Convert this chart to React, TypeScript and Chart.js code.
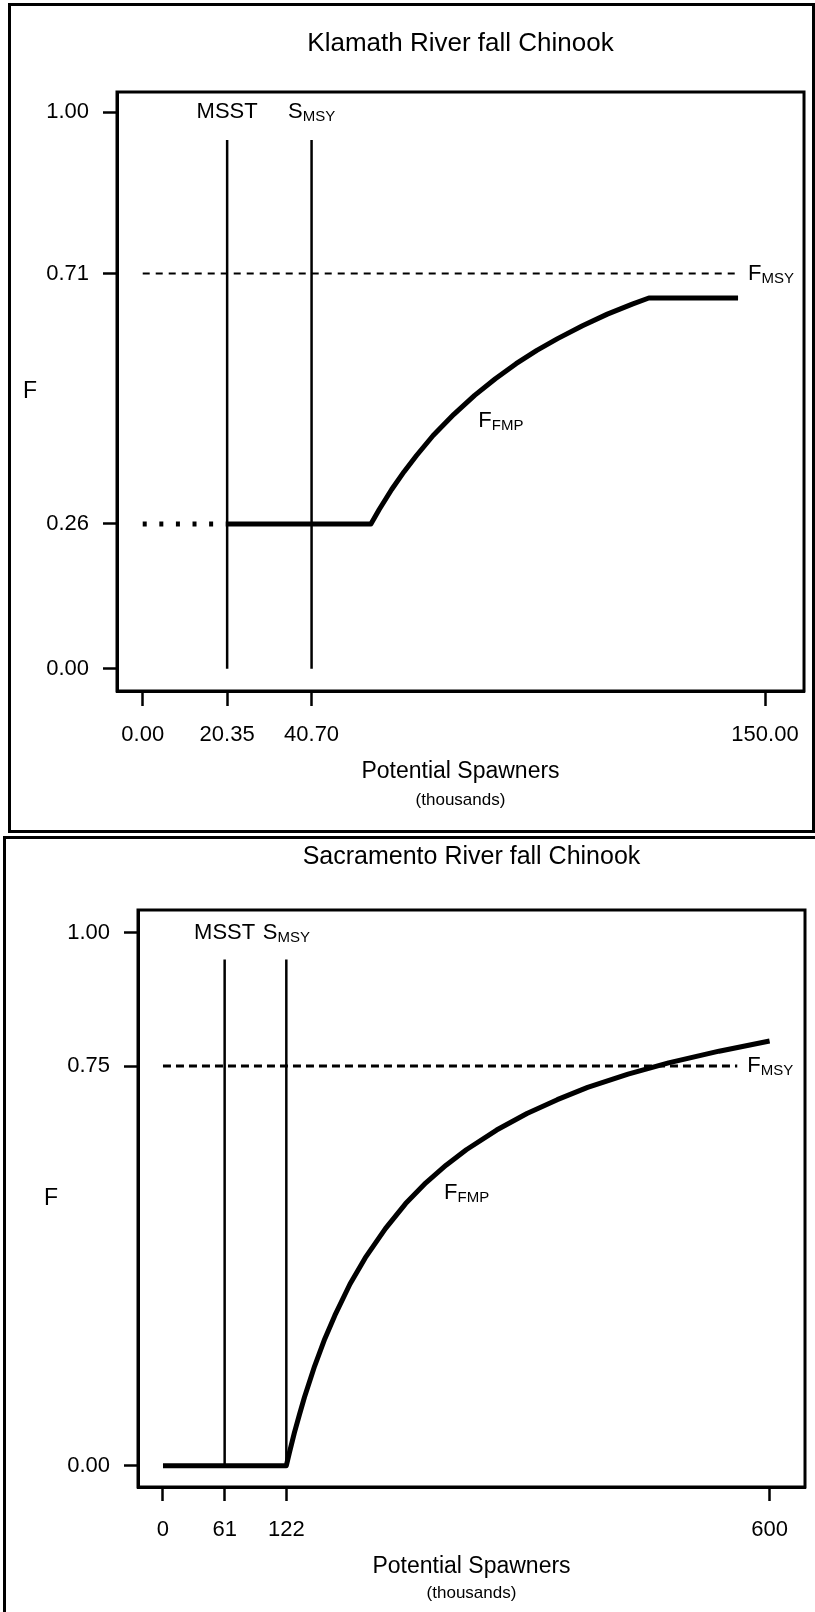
import React, { useEffect, useRef } from "react";
import { Chart, registerables } from "chart.js";

Chart.register(...registerables);

const FAMILY = "'Liberation Sans', Arial, Helvetica, sans-serif";

// ---------- Klamath River fall Chinook ----------
const klamathTitle = "Klamath River fall Chinook";
const klamathXTicks = [0, 20.35, 40.7, 150];
const klamathXTickLabels = ["0.00", "20.35", "40.70", "150.00"];
const klamathYTicks = [0, 0.26, 0.71, 1.0];
const klamathYTickLabels = ["0.00", "0.26", "0.71", "1.00"];
const klamathMSST = 20.35;
const klamathSMSY = 40.7;
const klamathFMSY = 0.71;
const klamathFMSYLineS = [0, 143.5];
const klamathRefLineTop = 0.95;
const klamathDottedS = [0, 20.35];
const klamathDottedF = [0.26, 0.26];
const klamathRuleS = [20.35, 55, 57, 60, 63, 66, 70, 75, 80, 85, 90, 95, 100, 106, 112, 118, 122, 143.5];
const klamathRuleF = [0.26, 0.26, 0.286, 0.322, 0.354, 0.383, 0.419, 0.457, 0.491, 0.521, 0.548, 0.572, 0.593, 0.616, 0.637, 0.655, 0.666, 0.666];

// ---------- Sacramento River fall Chinook ----------
const sacTitle = "Sacramento River fall Chinook";
const sacXTicks = [0, 61, 122, 600];
const sacXTickLabels = ["0", "61", "122", "600"];
const sacYTicks = [0, 0.75, 1.0];
const sacYTickLabels = ["0.00", "0.75", "1.00"];
const sacMSST = 61;
const sacSMSY = 122;
const sacFMSY = 0.75;
const sacFMSYLineS = [0, 568];
const sacRefLineTop = 0.95;
const sacRuleS = [0, 122, 125, 130, 135, 140, 150, 160, 170, 185, 200, 220, 240, 260, 280, 300, 330, 360, 390, 420, 460, 500, 550, 600];
const sacRuleF = [0, 0, 0.024, 0.062, 0.096, 0.129, 0.187, 0.238, 0.282, 0.341, 0.39, 0.445, 0.492, 0.531, 0.564, 0.593, 0.63, 0.661, 0.687, 0.71, 0.735, 0.756, 0.778, 0.797];

const pts = (xs: number[], ys: number[]) => xs.map((x, i) => ({ x, y: ys[i] }));

type PanelCfg = {
  title: string;
  xTicks: number[];
  xTickLabels: string[];
  yTicks: number[];
  yTickLabels: string[];
  xMin: number;
  xMax: number;
  yMin: number;
  yMax: number;
  datasets: any[];
  msst: number;
  smsy: number;
  fmsy: number;
  fmsyLabelS: number;
  ffmpAnchor: { x: number; y: number };
  // layout
  canvasTop: number;
  canvasHeight: number;
  areaLeft: number;
  areaRight: number;
  areaTop: number;
  areaBottom: number;
  titleDy: number;
  titlePx: number;
  xTitleDy: number;
  xSubDy: number;
  xTickLen: number;
};

function makeDatasets(
  msst: number,
  smsy: number,
  refTop: number,
  fmsy: number,
  fmsyS: number[],
  dashW: number,
  dash: number[],
  ruleS: number[],
  ruleF: number[],
  dotted?: { s: number[]; f: number[] }
) {
  const ds: any[] = [
    {
      data: pts(fmsyS, [fmsy, fmsy]),
      borderColor: "#000",
      borderWidth: dashW,
      borderDash: dash,
    },
    { data: pts([msst, msst], [0, refTop]), borderColor: "#000", borderWidth: 2.5 },
    { data: pts([smsy, smsy], [0, refTop]), borderColor: "#000", borderWidth: 2.5 },
  ];
  if (dotted) {
    ds.push({
      data: pts(dotted.s, dotted.f),
      borderColor: "#000",
      borderWidth: 5,
      borderDash: [4, 12.6],
    });
  }
  ds.push({ data: pts(ruleS, ruleF), borderColor: "#000", borderWidth: 5 });
  return ds.map((d) => ({
    showLine: true,
    pointRadius: 0,
    pointHoverRadius: 0,
    tension: 0,
    fill: false,
    borderCapStyle: "butt",
    borderJoinStyle: "round",
    ...d,
  }));
}

const klamathCfg: PanelCfg = {
  title: klamathTitle,
  xTicks: klamathXTicks,
  xTickLabels: klamathXTickLabels,
  yTicks: klamathYTicks,
  yTickLabels: klamathYTickLabels,
  xMin: -6.2,
  xMax: 159.4,
  yMin: -0.04,
  yMax: 1.036,
  datasets: makeDatasets(
    klamathMSST,
    klamathSMSY,
    klamathRefLineTop,
    klamathFMSY,
    klamathFMSYLineS,
    2,
    [7, 6],
    klamathRuleS,
    klamathRuleF,
    { s: klamathDottedS, f: klamathDottedF }
  ),
  msst: klamathMSST,
  smsy: klamathSMSY,
  fmsy: klamathFMSY,
  fmsyLabelS: klamathFMSYLineS[1],
  ffmpAnchor: { x: 80.9, y: 0.445 },
  canvasTop: 0,
  canvasHeight: 835,
  areaLeft: 117,
  areaRight: 809,
  areaTop: 92,
  areaBottom: 691,
  titleDy: -48,
  titlePx: 26,
  xTitleDy: 81,
  xSubDy: 109,
  xTickLen: 15,
};

const sacCfg: PanelCfg = {
  title: sacTitle,
  xTicks: sacXTicks,
  xTickLabels: sacXTickLabels,
  yTicks: sacYTicks,
  yTickLabels: sacYTickLabels,
  xMin: -24.7,
  xMax: 635,
  yMin: -0.04,
  yMax: 1.043,
  datasets: makeDatasets(sacMSST, sacSMSY, sacRefLineTop, sacFMSY, sacFMSYLineS, 3, [8, 5], sacRuleS, sacRuleF),
  msst: sacMSST,
  smsy: sacSMSY,
  fmsy: sacFMSY,
  fmsyLabelS: sacFMSYLineS[1],
  ffmpAnchor: { x: 278, y: 0.512 },
  canvasTop: 835,
  canvasHeight: 777,
  areaLeft: 138,
  areaRight: 805,
  areaTop: 75,
  areaBottom: 652,
  titleDy: -53,
  titlePx: 25,
  xTitleDy: 80,
  xSubDy: 106,
  xTickLen: 14,
};

function drawSubLabel(
  ctx: CanvasRenderingContext2D,
  main: string,
  sub: string,
  x: number,
  y: number,
  align: "left" | "center",
  mainPx = 22,
  subPx = 15,
  subDy = 5
) {
  ctx.font = `${mainPx}px ${FAMILY}`;
  const wm = ctx.measureText(main).width;
  ctx.font = `${subPx}px ${FAMILY}`;
  const ws = ctx.measureText(sub).width;
  const x0 = align === "center" ? x - (wm + ws) / 2 : x;
  ctx.textAlign = "left";
  ctx.textBaseline = "middle";
  ctx.font = `${mainPx}px ${FAMILY}`;
  ctx.fillText(main, x0, y);
  ctx.font = `${subPx}px ${FAMILY}`;
  ctx.fillText(sub, x0 + wm, y + subDy);
}

function Panel({ cfg }: { cfg: PanelCfg }) {
  const ref = useRef<HTMLCanvasElement | null>(null);

  useEffect(() => {
    if (!ref.current) return;
    const X_AXIS_H = 60;
    const annot = {
      id: "annot",
      afterDraw(chart: any) {
        const { ctx, chartArea: a, scales } = chart;
        const xs = scales.x;
        const ys = scales.y;
        ctx.save();
        // full plot box
        ctx.strokeStyle = "#000";
        ctx.lineWidth = 3;
        ctx.strokeRect(a.left, a.top, a.right - a.left, a.bottom - a.top);
        ctx.fillStyle = "#000";
        // title
        ctx.textAlign = "center";
        ctx.textBaseline = "middle";
        ctx.font = `${cfg.titlePx}px ${FAMILY}`;
        const cx = (a.left + a.right) / 2;
        ctx.fillText(cfg.title, cx, a.top + cfg.titleDy);
        // x title
        ctx.font = `23px ${FAMILY}`;
        ctx.fillText("Potential Spawners", cx, a.bottom + cfg.xTitleDy);
        ctx.font = `17px ${FAMILY}`;
        ctx.fillText("(thousands)", cx, a.bottom + cfg.xSubDy);
        // y title
        ctx.font = `23px ${FAMILY}`;
        ctx.fillText("F", a.left - 87, (a.top + a.bottom) / 2);
        // reference labels
        const topY = ys.getPixelForValue(1.0);
        ctx.font = `22px ${FAMILY}`;
        ctx.fillText("MSST", xs.getPixelForValue(cfg.msst), topY);
        drawSubLabel(ctx, "S", "MSY", xs.getPixelForValue(cfg.smsy), topY, "center");
        drawSubLabel(
          ctx,
          "F",
          "MSY",
          xs.getPixelForValue(cfg.fmsyLabelS) + 10,
          ys.getPixelForValue(cfg.fmsy),
          "left"
        );
        drawSubLabel(
          ctx,
          "F",
          "FMP",
          xs.getPixelForValue(cfg.ffmpAnchor.x),
          ys.getPixelForValue(cfg.ffmpAnchor.y),
          "left"
        );
        ctx.restore();
      },
    };

    const chart = new Chart(ref.current, {
      type: "scatter",
      data: { datasets: cfg.datasets },
      options: {
        animation: false,
        responsive: false,
        maintainAspectRatio: false,
        events: [],
        layout: {
          padding: {
            left: 0,
            top: cfg.areaTop,
            right: 815 - cfg.areaRight,
            bottom: cfg.canvasHeight - cfg.areaBottom - X_AXIS_H,
          },
        },
        plugins: {
          legend: { display: false },
          tooltip: { enabled: false },
          title: { display: false },
        },
        scales: {
          x: {
            type: "linear",
            min: cfg.xMin,
            max: cfg.xMax,
            afterBuildTicks: (s: any) => {
              s.ticks = cfg.xTicks.map((v) => ({ value: v }));
            },
            afterFit: (s: any) => {
              s.height = X_AXIS_H;
            },
            ticks: {
              autoSkip: false,
              maxRotation: 0,
              padding: 16,
              color: "#000",
              font: { family: FAMILY, size: 22 },
              callback: (v: any) => cfg.xTickLabels[cfg.xTicks.indexOf(v)] ?? "",
            },
            grid: {
              display: true,
              drawOnChartArea: false,
              drawTicks: true,
              tickLength: cfg.xTickLen,
              tickWidth: 2.5,
              tickColor: "#000",
            },
            border: { display: true, color: "#000", width: 3 },
          },
          y: {
            type: "linear",
            min: cfg.yMin,
            max: cfg.yMax,
            afterBuildTicks: (s: any) => {
              s.ticks = cfg.yTicks.map((v) => ({ value: v }));
            },
            afterFit: (s: any) => {
              s.width = cfg.areaLeft;
            },
            ticks: {
              autoSkip: false,
              padding: 14,
              color: "#000",
              font: { family: FAMILY, size: 22 },
              callback: (v: any) => cfg.yTickLabels[cfg.yTicks.indexOf(v)] ?? "",
            },
            grid: {
              display: true,
              drawOnChartArea: false,
              drawTicks: true,
              tickLength: 14,
              tickWidth: 2.5,
              tickColor: "#000",
            },
            border: { display: true, color: "#000", width: 3 },
          },
        },
      } as any,
      plugins: [annot],
    });
    return () => chart.destroy();
  }, [cfg]);

  return (
    <canvas
      ref={ref}
      width={815}
      height={cfg.canvasHeight}
      style={{
        position: "absolute",
        left: 0,
        top: cfg.canvasTop,
        width: 815,
        height: cfg.canvasHeight,
      }}
    />
  );
}

export default function App() {
  return (
    <div
      style={{
        position: "absolute",
        left: 0,
        top: 0,
        width: 815,
        height: 1612,
        overflow: "hidden",
        background: "#fff",
      }}
    >
      <div
        style={{
          position: "absolute",
          left: 8,
          top: 3,
          width: 807,
          height: 830,
          border: "3px solid #000",
          boxSizing: "border-box",
        }}
      />
      <div
        style={{
          position: "absolute",
          left: 3,
          top: 836,
          width: 830,
          height: 800,
          border: "3px solid #000",
          boxSizing: "border-box",
        }}
      />
      <Panel cfg={klamathCfg} />
      <Panel cfg={sacCfg} />
    </div>
  );
}
